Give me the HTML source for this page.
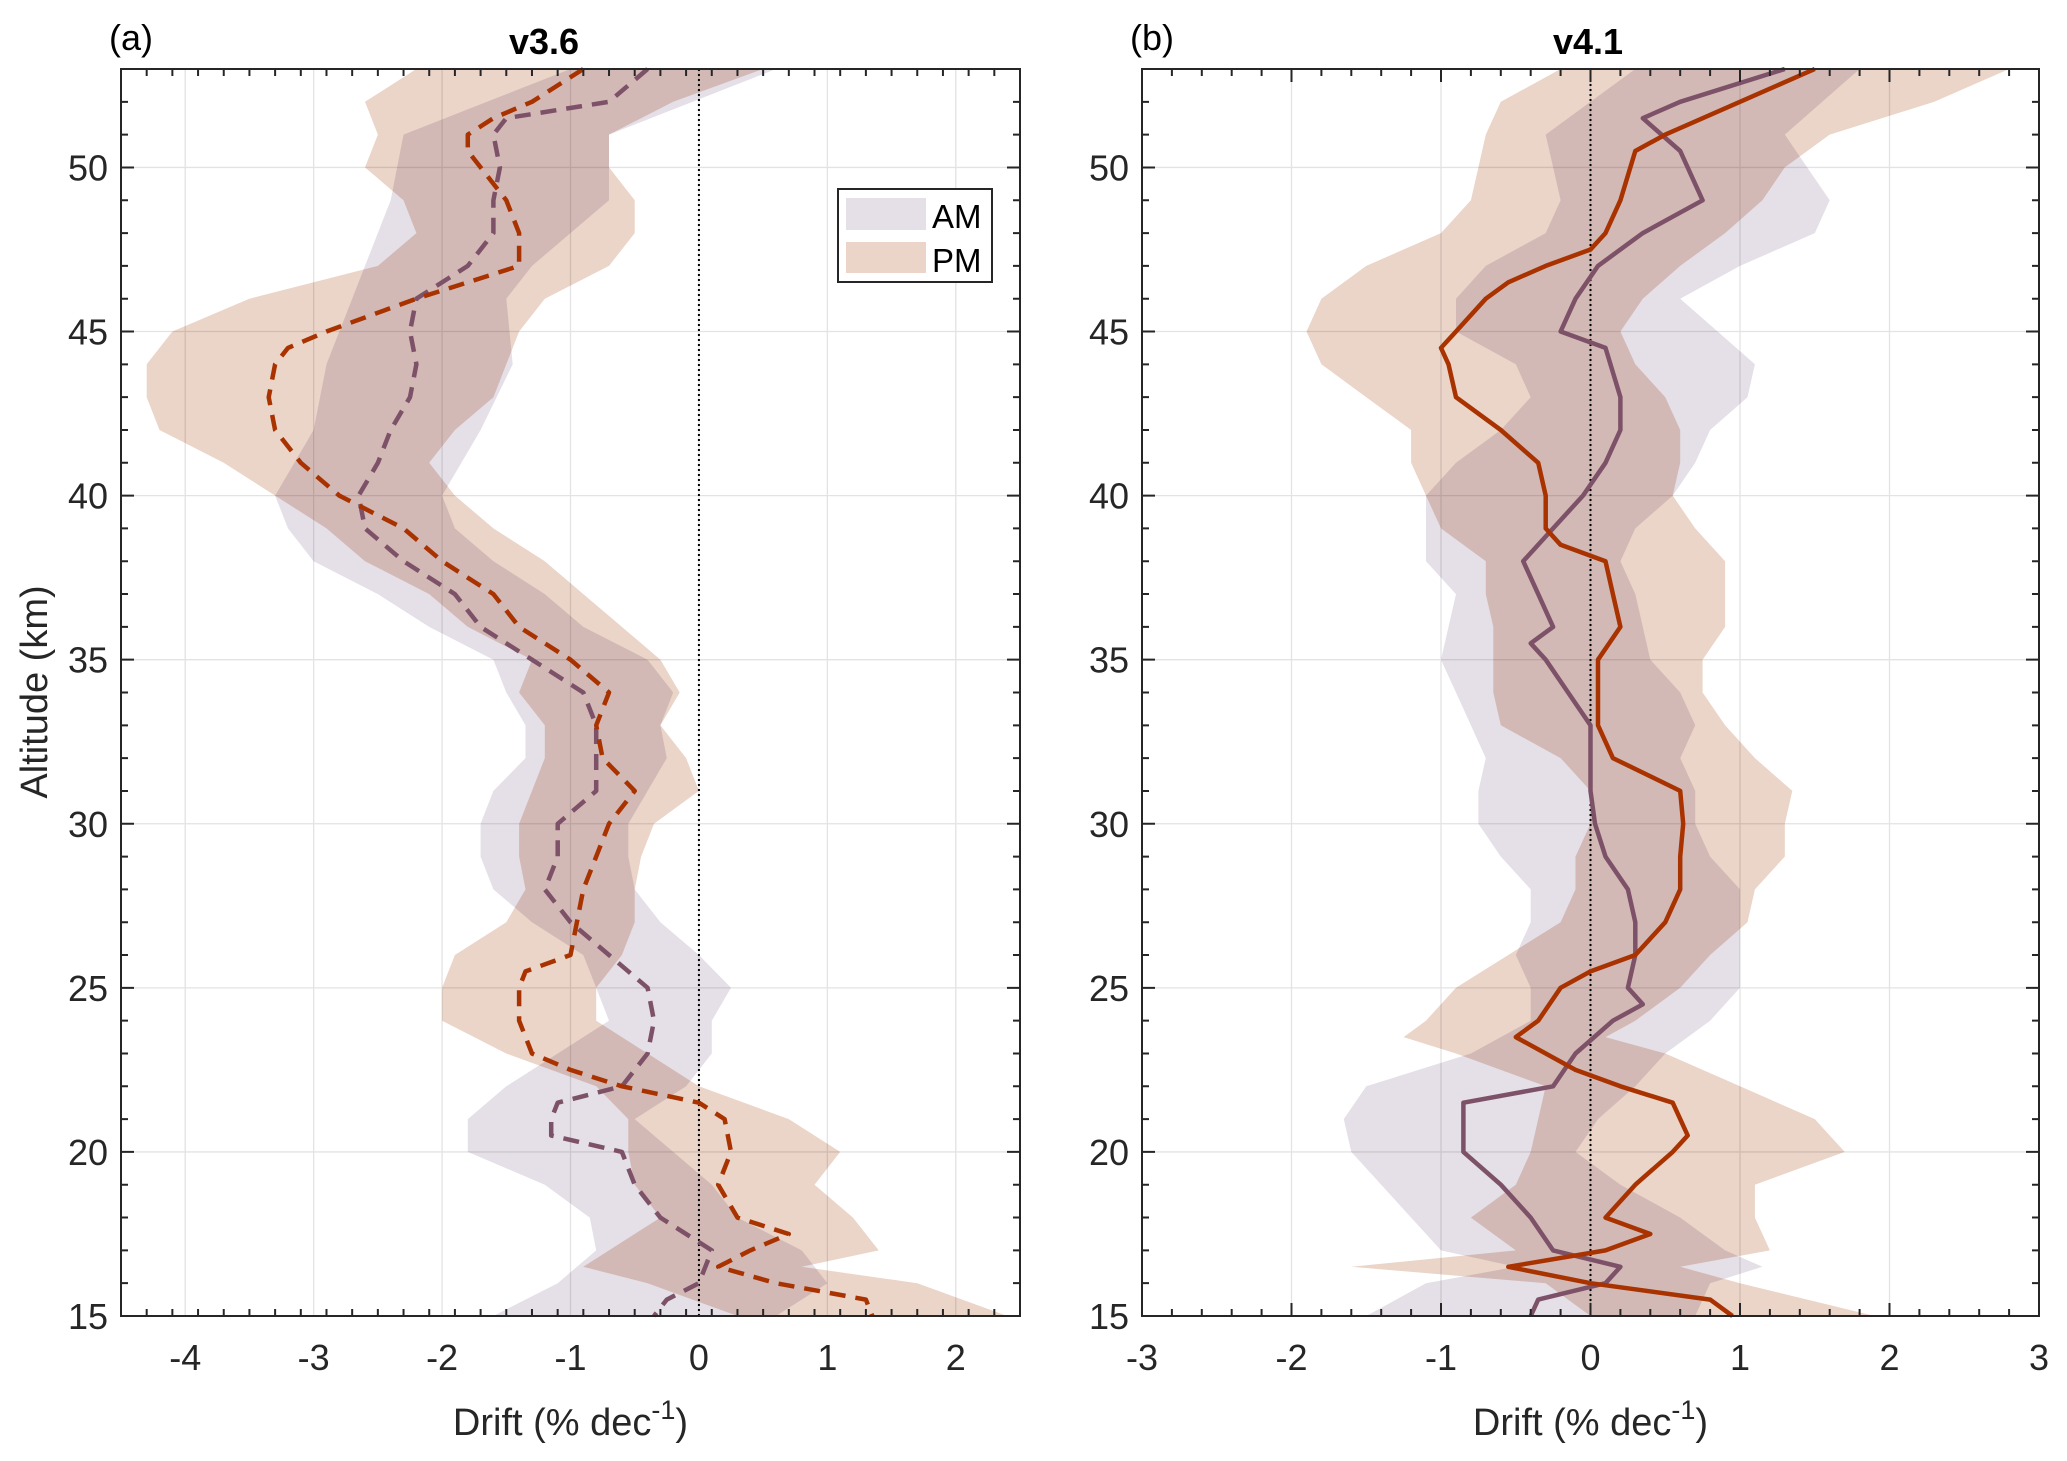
<!DOCTYPE html>
<html><head><meta charset="utf-8"><style>
html,body{margin:0;padding:0;background:#fff;}
svg{display:block;font-family:"Liberation Sans",Arial,sans-serif;}
</style></head><body>
<svg id="chart" width="2067" height="1461" viewBox="0 0 2067 1461" xmlns="http://www.w3.org/2000/svg"></svg>
<script>
// ---- Panel (a) v3.6 data ----
const amAltA = [53,52,51.5,51,50,49,48,47,46,45,44,43,42,41,40,39,38,37,36,35,34,33,32,31,30,29,28,27,26,25,24,23,22,21.5,21,20.5,20,19,18,17,16,15.5,15];
const amValA = [-0.4,-0.7,-1.5,-1.6,-1.55,-1.6,-1.6,-1.8,-2.2,-2.25,-2.2,-2.25,-2.4,-2.5,-2.65,-2.6,-2.3,-1.9,-1.7,-1.3,-0.9,-0.8,-0.8,-0.8,-1.1,-1.1,-1.2,-1.0,-0.7,-0.4,-0.35,-0.4,-0.6,-1.1,-1.15,-1.15,-0.6,-0.5,-0.3,0.1,0.0,-0.25,-0.35];
const pmAltA = [53,52,51.5,51,50.5,49,48,47,46.5,46,45,44.5,44,43,42,41,40,39,38,37,36,35,34,33,32,31,30,29,28,27,26,25.5,25,24,23,22.5,22,21.5,21,20,19,18,17.5,17,16.5,16,15.5,15];
const pmValA = [-0.9,-1.3,-1.6,-1.8,-1.8,-1.5,-1.4,-1.4,-1.8,-2.2,-2.9,-3.2,-3.3,-3.35,-3.3,-3.1,-2.8,-2.3,-2.0,-1.6,-1.4,-1.0,-0.7,-0.8,-0.75,-0.5,-0.7,-0.8,-0.9,-0.95,-1.0,-1.35,-1.4,-1.4,-1.3,-1.0,-0.6,0.0,0.2,0.25,0.15,0.3,0.7,0.4,0.15,0.6,1.3,1.35];
const amBandAltA = [53,51,49,47,46,44,42,40,39,38,37,36,35,34,33,32,31,30,29,28,27,26,25,24,23,22,21,20,19,18,17,16,15];
const amLoA = [-1.0,-2.3,-2.4,-2.6,-2.7,-2.9,-3.0,-3.3,-3.2,-3.0,-2.5,-2.1,-1.6,-1.5,-1.35,-1.35,-1.6,-1.7,-1.7,-1.6,-1.3,-0.9,-0.8,-0.7,-1.1,-1.5,-1.8,-1.8,-1.2,-0.85,-0.8,-1.1,-1.6];
const amHiA = [0.6,-0.7,-0.7,-1.3,-1.5,-1.45,-1.7,-2.0,-1.9,-1.6,-1.2,-0.9,-0.4,-0.2,-0.3,-0.25,-0.4,-0.55,-0.55,-0.5,-0.3,0.0,0.25,0.1,0.1,-0.1,-0.5,-0.2,0.1,0.3,0.8,1.0,0.6];
const pmBandAltA = [53,52,51,50,49,48,47,46,45,44,43,42,41,40,39,38,37,36,35,34,33,32,31,30,29,28,27,26,25,24,23,22,21,20,19,18,17,16.5,16,15];
const pmLoA = [-2.2,-2.6,-2.5,-2.6,-2.3,-2.2,-2.5,-3.5,-4.1,-4.3,-4.3,-4.2,-3.7,-3.3,-2.9,-2.6,-2.1,-1.8,-1.3,-1.4,-1.2,-1.2,-1.3,-1.4,-1.4,-1.35,-1.5,-1.9,-2.0,-2.0,-1.5,-0.8,-0.55,-0.55,-0.5,-0.3,-0.7,-0.9,-0.4,0.3];
const pmHiA = [0.5,-0.2,-0.7,-0.7,-0.5,-0.5,-0.7,-1.2,-1.4,-1.5,-1.6,-1.9,-2.1,-1.9,-1.6,-1.2,-0.9,-0.6,-0.3,-0.15,-0.3,-0.1,0.0,-0.35,-0.45,-0.5,-0.5,-0.6,-0.8,-0.8,-0.4,0.0,0.7,1.1,0.9,1.2,1.4,0.8,1.7,2.4];

// ---- Panel (b) v4.1 data ----
const amAltB = [53,52,51.5,50.5,49,48,47,46,45,44.5,43,42,41,40,39,38,37,36,35.5,35,34,33,32,31,30,29,28,27,26,25,24.5,24,23,22,21.5,21,20,19,18,17,16.5,16,15.5,15];
const amValB = [1.3,0.6,0.35,0.6,0.75,0.35,0.05,-0.1,-0.2,0.1,0.2,0.2,0.1,-0.05,-0.25,-0.45,-0.35,-0.25,-0.4,-0.3,-0.15,0.0,0.0,0.0,0.03,0.1,0.25,0.3,0.3,0.25,0.35,0.15,-0.1,-0.25,-0.85,-0.85,-0.85,-0.6,-0.4,-0.25,0.2,0.1,-0.35,-0.4];
const pmAltB = [53,52,51,50.5,49,48,47.5,47,46.5,46,45,44.5,44,43,42,41,40,39,38.5,38,37,36,35,34,33,32,31,30,29,28,27,26,25.5,25,24,23.5,22.5,22,21.5,21,20.5,20,19,18,17.5,17,16.5,16,15.5,15];
const pmValB = [1.5,1.0,0.5,0.3,0.2,0.1,0.0,-0.3,-0.55,-0.7,-0.9,-1.0,-0.95,-0.9,-0.6,-0.35,-0.3,-0.3,-0.2,0.1,0.15,0.2,0.05,0.05,0.05,0.15,0.6,0.62,0.6,0.6,0.5,0.3,0.0,-0.2,-0.35,-0.5,-0.1,0.2,0.55,0.6,0.65,0.55,0.3,0.1,0.4,0.1,-0.55,0.0,0.8,0.95];
const amBandAltB = [53,51,49,48,47,46,45,44,43,42,41,40,39,38,37,36,35,34,33,32,31,30,29,28,27,26,25,24,23,22,21,20,19,18,17,16.5,16,15];
const amLoB = [0.3,-0.3,-0.2,-0.3,-0.7,-0.9,-0.9,-0.5,-0.4,-0.6,-0.9,-1.1,-1.1,-1.1,-0.9,-0.95,-1.0,-0.9,-0.8,-0.7,-0.75,-0.75,-0.6,-0.4,-0.4,-0.5,-0.4,-0.4,-0.8,-1.5,-1.65,-1.6,-1.4,-1.2,-1.0,-0.5,-1.1,-1.5];
const amHiB = [1.8,1.3,1.6,1.5,1.0,0.6,0.85,1.1,1.05,0.8,0.7,0.55,0.3,0.2,0.3,0.35,0.4,0.6,0.7,0.6,0.7,0.7,0.8,1.0,1.0,1.0,1.0,0.8,0.5,0.3,0.05,-0.1,0.2,0.6,0.9,1.15,0.8,0.7];
const pmBandAltB = [53,52,51,50,49,48,47,46,45,44,43,42,41,40,39,38,37,36,35,34,33,32,31,30,29,28,27,26,25,24,23.5,23,22,21,20,19,18,17,16.5,16,15];
const pmLoB = [-0.2,-0.6,-0.7,-0.75,-0.8,-1.0,-1.5,-1.8,-1.9,-1.8,-1.5,-1.2,-1.2,-1.1,-1.0,-0.7,-0.7,-0.65,-0.65,-0.65,-0.6,-0.2,0.0,0.0,-0.1,-0.1,-0.2,-0.55,-0.9,-1.1,-1.25,-0.9,-0.3,-0.35,-0.4,-0.5,-0.8,-0.5,-1.6,-0.3,0.0];
const pmHiB = [2.8,2.3,1.6,1.3,1.15,0.9,0.6,0.35,0.2,0.3,0.5,0.6,0.6,0.55,0.7,0.9,0.9,0.9,0.75,0.75,0.9,1.1,1.35,1.3,1.3,1.1,1.05,0.8,0.6,0.3,0.1,0.5,1.0,1.5,1.7,1.1,1.1,1.2,0.6,1.0,1.9];

const yTicks = [15,20,25,30,35,40,45,50];
const xTicksA = [-4,-3,-2,-1,0,1,2];
const xTicksB = [-3,-2,-1,0,1,2,3];

const NS = "http://www.w3.org/2000/svg";
const svg = document.getElementById('chart');
function mk(tag, attrs, parent){
  const e = document.createElementNS(NS, tag);
  for (const k in attrs) e.setAttribute(k, attrs[k]);
  (parent||svg).appendChild(e);
  return e;
}
const Y0 = 69, Y1 = 1316, YMIN = 15, YMAX = 53;
function yS(v){ return Y1 - (v - YMIN) / (YMAX - YMIN) * (Y1 - Y0); }

function panel(cfg){
  const g = mk('g', {});
  
  
  const xS = v => cfg.x0 + (v - cfg.xmin) / (cfg.xmax - cfg.xmin) * (cfg.x1 - cfg.x0);
  cfg.xt.forEach(t => { const l = mk('line', {x1:xS(t), x2:xS(t), y1:Y0, y2:Y1, stroke:'#e3e3e3', 'stroke-width':1.3}, g);
      });
  yTicks.forEach(t => { const l = mk('line', {x1:cfg.x0, x2:cfg.x1, y1:yS(t), y2:yS(t), stroke:'#e3e3e3', 'stroke-width':1.3}, g);
      });
  function band(alt, lo, hi, color, nm){
    let d = '';
    alt.forEach((a,i)=>{ d += (i?'L':'M') + xS(lo[i]).toFixed(1) + ',' + yS(a).toFixed(1); });
    for (let i = alt.length-1; i >= 0; i--) d += 'L' + xS(hi[i]).toFixed(1) + ',' + yS(alt[i]).toFixed(1);
    const p = mk('path', {d: d+'Z', fill: color, style:'mix-blend-mode:multiply'}, g);
    
    
  }
  band(cfg.amBA, cfg.amLo, cfg.amHi, '#e5dfe7', 'am-uncertainty-band');
  band(cfg.pmBA, cfg.pmLo, cfg.pmHi, '#ebd4c8', 'pm-uncertainty-band');
  const z = mk('line', {x1:xS(0), x2:xS(0), y1:Y0, y2:Y1, stroke:'#000', 'stroke-width':2, 'stroke-dasharray':'2,3'}, g);
   
  function line(alt, val, color, nm){
    const pts = alt.map((a,i)=> xS(val[i]).toFixed(1)+','+yS(a).toFixed(1)).join(' ');
    const attrs = {points: pts, fill:'none', stroke: color, 'stroke-width':4.5, 'stroke-linejoin':'round'};
    if (cfg.dashed) attrs['stroke-dasharray'] = '16,10';
    const p = mk('polyline', attrs, g);
    
    
  }
  line(cfg.amAlt, cfg.amVal, '#7d5268', 'am-drift-line');
  line(cfg.pmAlt, cfg.pmVal, '#a93300', 'pm-drift-line');
  const box = mk('rect', {x:cfg.x0, y:Y0, width:cfg.x1-cfg.x0, height:Y1-Y0, fill:'none', stroke:'#262626', 'stroke-width':2}, g);
   
  let td = '';
  for (let v = cfg.xmin; v <= cfg.xmax + 1e-6; v += 0.2) {
    const major = Math.abs(v - Math.round(v)) < 1e-6; const L = major ? 13 : 7; const x = xS(v);
    td += `M${x},${Y1}v${-L}M${x},${Y0}v${L}`;
  }
  for (let v = YMIN; v <= YMAX; v += 1) {
    const L = v % 5 === 0 ? 13 : 7; const y = yS(v);
    td += `M${cfg.x0},${y}h${L}M${cfg.x1},${y}h${-L}`;
  }
  const tk = mk('path', {d: td, stroke:'#262626', 'stroke-width':2, fill:'none'}, g);
   
  cfg.xt.forEach(t => { const e = mk('text', {x:xS(t), y:1370, 'font-size':36, 'text-anchor':'middle', fill:'#262626'}, g);
    e.textContent = t;   });
  yTicks.forEach(t => { const e = mk('text', {x:cfg.x0-13, y:yS(t)+13, 'font-size':36, 'text-anchor':'end', fill:'#262626'}, g);
    e.textContent = t;   });
  const xl = mk('text', {x:(cfg.x0+cfg.x1)/2, y:1435, 'font-size':38, 'text-anchor':'middle', fill:'#262626'}, g);
  xl.innerHTML = 'Drift (% dec<tspan dy="-16" font-size="27">-1</tspan><tspan dy="16">)</tspan>';
   
  const pl = mk('text', {x:cfg.x0-12, y:50, 'font-size':36, fill:'#000'}, g);
  pl.textContent = cfg.label;  
  const ti = mk('text', {x:cfg.titleX, y:54, 'font-size':36, 'font-weight':'bold', 'text-anchor':'middle', fill:'#000'}, g);
  ti.textContent = cfg.title;  
}

panel({name:'panel-a-v3-6', x0:121, x1:1020, xmin:-4.5, xmax:2.5, xt:xTicksA, dashed:true, label:'(a)', title:'v3.6', titleX:544,
  amAlt:amAltA, amVal:amValA, pmAlt:pmAltA, pmVal:pmValA, amBA:amBandAltA, amLo:amLoA, amHi:amHiA, pmBA:pmBandAltA, pmLo:pmLoA, pmHi:pmHiA});
panel({name:'panel-b-v4-1', x0:1142, x1:2039, xmin:-3, xmax:3, xt:xTicksB, dashed:false, label:'(b)', title:'v4.1', titleX:1588,
  amAlt:amAltB, amVal:amValB, pmAlt:pmAltB, pmVal:pmValB, amBA:amBandAltB, amLo:amLoB, amHi:amHiB, pmBA:pmBandAltB, pmLo:pmLoB, pmHi:pmHiB});

const yt = mk('text', {x:0, y:0, 'font-size':38, 'text-anchor':'middle', fill:'#262626', transform:'translate(47,692) rotate(-90)'});
yt.textContent = 'Altitude (km)';



const lg = mk('g', {});


const lb = mk('rect', {x:838, y:189, width:154, height:93, fill:'#fff', stroke:'#262626', 'stroke-width':2}, lg);
 
const la = mk('rect', {x:846, y:198, width:80, height:32, fill:'#e5dfe7'}, lg);
 
const lp = mk('rect', {x:846, y:242, width:80, height:31, fill:'#ebd4c8'}, lg);
 
const ta = mk('text', {x:932, y:228, 'font-size':33, fill:'#000'}, lg);
ta.textContent = 'AM';  
const tp = mk('text', {x:932, y:272, 'font-size':33, fill:'#000'}, lg);
tp.textContent = 'PM';  
</script>
</body></html>
